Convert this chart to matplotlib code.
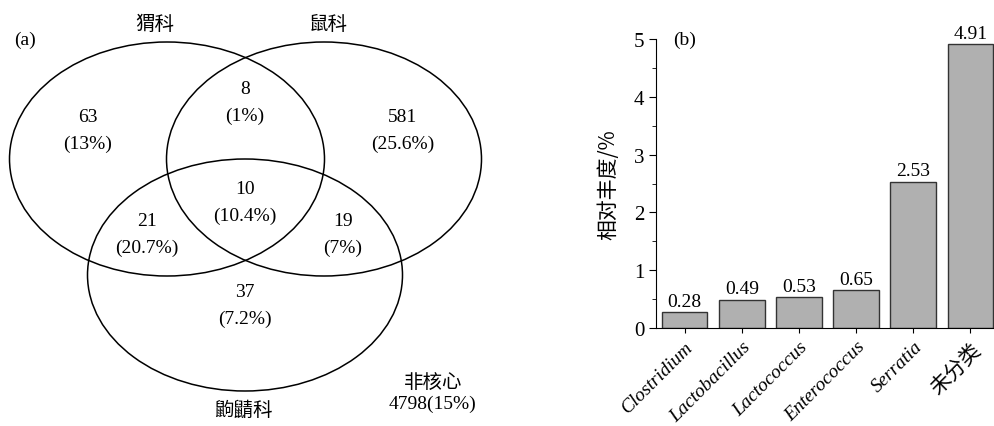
import matplotlib
matplotlib.use('Agg')
import matplotlib.pyplot as plt
from matplotlib.patches import Ellipse
from matplotlib.ticker import MultipleLocator

FAM = ['Liberation Serif', 'Noto Sans CJK SC']
CJK = ['Noto Sans CJK SC', 'Liberation Serif']

# Venn data
set_names = ['猬科', '鼠科', '鼩鼱科']
region_counts = [63, 8, 581, 10, 21, 19, 37]
region_pcts = ['13%', '1%', '25.6%', '10.4%', '20.7%', '7%', '7.2%']
noncore_count = 4798
noncore_pct = '15%'

# bar data
genera = ['Clostridium', 'Lactobacillus', 'Lactococcus', 'Enterococcus', 'Serratia', '未分类']
abundance = [0.28, 0.49, 0.53, 0.65, 2.53, 4.91]

fig = plt.figure(figsize=(9.95, 4.27), dpi=100)

# ---- (a) Venn, axes in pixel coords ----
ax = fig.add_axes([0, 0, 560 / 995, 1])
ax.set_xlim(0, 560)
ax.set_ylim(427, 0)
ax.axis('off')

ells = [(167, 160, 315, 234), (324, 160, 315, 234), (245, 276, 315, 232)]
for cx, cy, w, h in ells:
    ax.add_patch(Ellipse((cx, cy), w, h, fill=False, ec='black', lw=1.1))

fs = 14
pos = [(88, 118), (245, 90), (403, 118), (245, 190), (147, 222), (343, 222), (245, 293)]
for (x, y), n, p in zip(pos, region_counts, region_pcts):
    ax.text(x, y, str(n), ha='center', va='center', fontsize=fs, family=FAM)
    ax.text(x, y + 26, '(%s)' % p, ha='center', va='center', fontsize=fs, family=FAM)

ax.text(155, 24, set_names[0], ha='center', va='center', fontsize=fs, family=CJK, weight='medium')
ax.text(328, 24, set_names[1], ha='center', va='center', fontsize=fs, family=CJK, weight='medium')
ax.text(243, 410, set_names[2], ha='center', va='center', fontsize=fs, family=CJK, weight='medium')
ax.text(25, 40, '(a)', ha='center', va='center', fontsize=fs, family=FAM)
ax.text(433, 382, '非核心', ha='center', va='center', fontsize=fs, family=CJK, weight='medium')
ax.text(433, 404, '%d(%s)' % (noncore_count, noncore_pct), ha='center', va='center',
        fontsize=fs, family=FAM)

# ---- (b) bar chart ----
bx = fig.add_axes([656 / 995, 98 / 427, 343 / 995, 289 / 427])
x = range(len(genera))
bx.bar(x, abundance, width=0.8, color='#b0b0b0', edgecolor='#333333', lw=1)
for i, v in enumerate(abundance):
    bx.text(i, v + 0.04, '%.2f' % v, ha='center', va='bottom', fontsize=fs, family=FAM)
bx.set_xlim(-0.5, 5.5)
bx.set_ylim(0, 5)
bx.yaxis.set_major_locator(MultipleLocator(1))
bx.yaxis.set_minor_locator(MultipleLocator(0.5))
bx.spines['top'].set_visible(False)
bx.spines['right'].set_visible(False)
bx.tick_params(axis='y', direction='out', labelsize=15)
bx.tick_params(axis='x', direction='out', labelsize=14)
bx.tick_params(axis='y', which='major', length=5)
bx.tick_params(axis='y', which='minor', length=3)
bx.set_xticks(list(x))
bx.set_xticklabels(genera, rotation=45, ha='right', rotation_mode='anchor')
for i, t in enumerate(bx.get_xticklabels()):
    if i < 5:
        t.set_family(FAM)
        t.set_style('italic')
    else:
        t.set_family(CJK)
        t.set_fontsize(15)
for t in bx.get_yticklabels():
    t.set_family(FAM)
bx.set_ylabel('相对丰度/%', fontsize=15, family=CJK, weight='medium', labelpad=10)
bx.text(0.0, 5.0, '(b)', ha='center', va='center', fontsize=fs, family=FAM)

fig.savefig('out.png', dpi=100)
